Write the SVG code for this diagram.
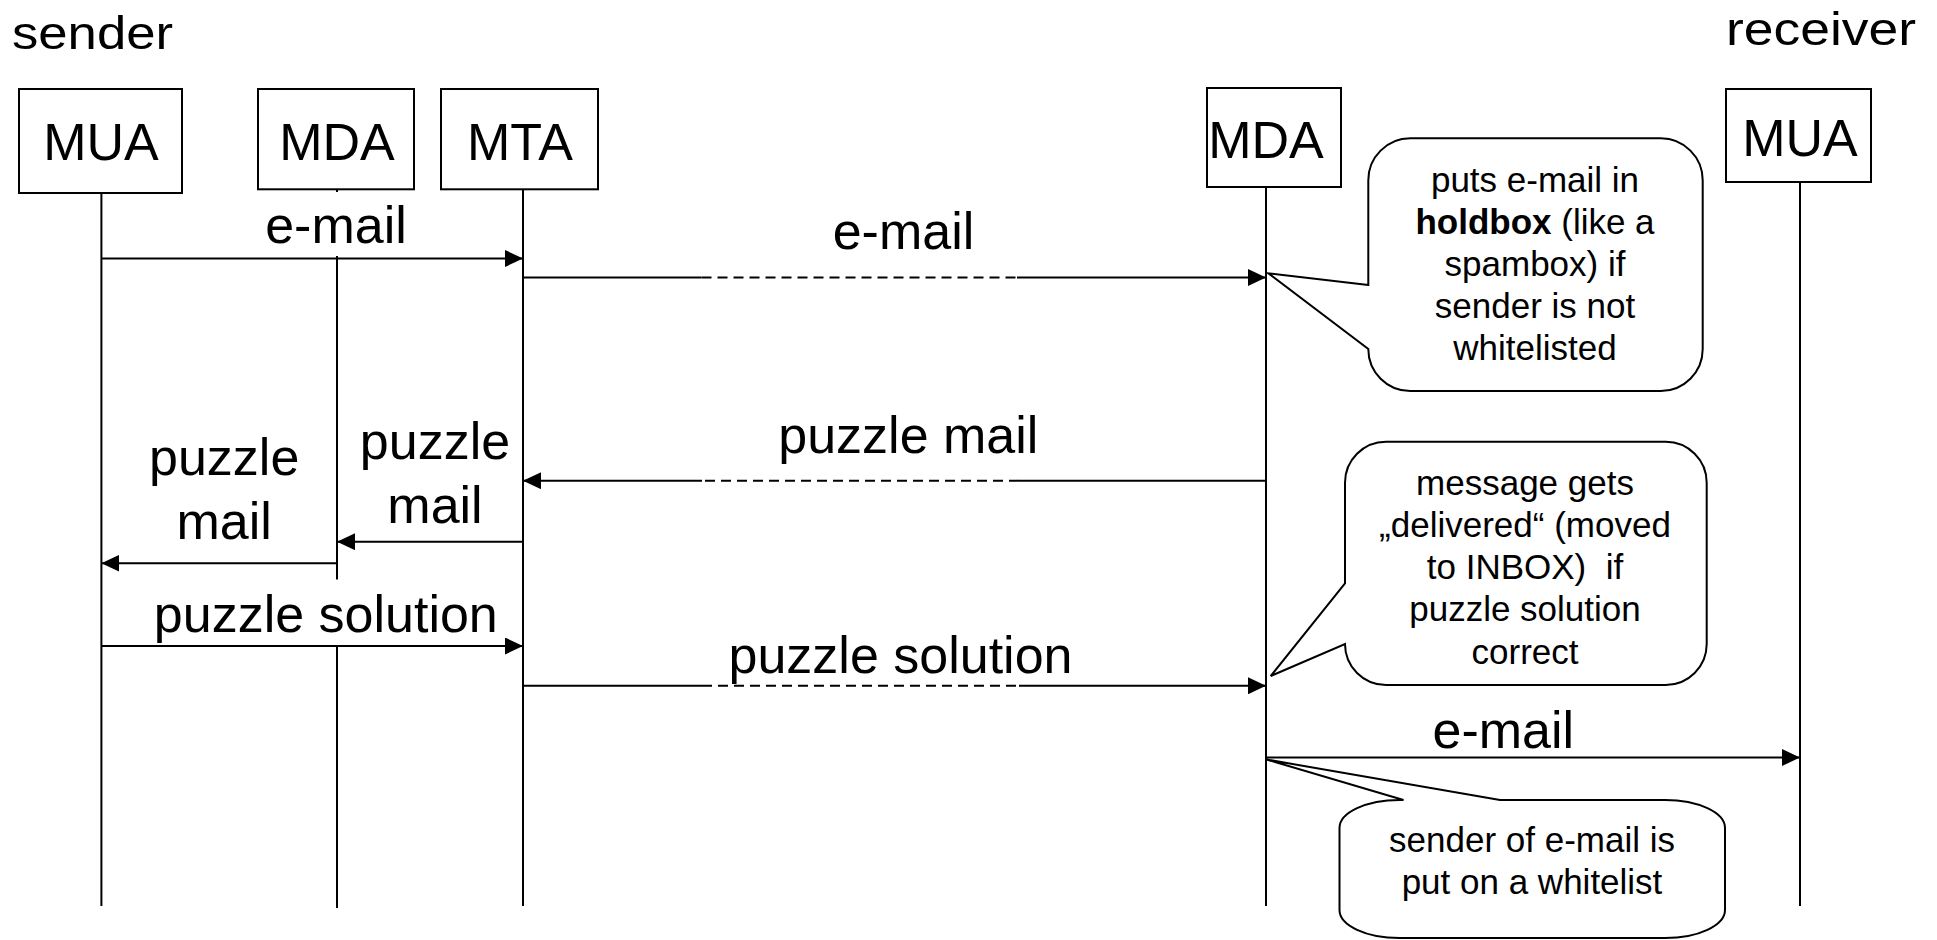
<svg xmlns="http://www.w3.org/2000/svg" width="1937" height="940" viewBox="0 0 1937 940">
  <style>
    .box { fill: #ffffff; stroke: #000000; stroke-width: 2; }
    .life { stroke: #000000; stroke-width: 2; fill: none; }
    .msg { stroke: #000000; stroke-width: 2; fill: none; }
    .hop { stroke: #000000; stroke-width: 2; fill: none; stroke-dasharray: 10 6; }
    .note { fill: #ffffff; stroke: #000000; stroke-width: 2; stroke-linejoin: miter; }
    text { font-family: "Liberation Sans", Arial, sans-serif; fill: #000000; }
    .role { font-size: 47px; }
    .name { font-size: 52px; text-anchor: middle; }
    .lbl { font-size: 52px; text-anchor: middle; }
    .ntxt { font-size: 35px; text-anchor: middle; white-space: pre; }
  </style>
  <defs>
    <marker id="head" viewBox="0 0 18 17" refX="18" refY="8.5" markerWidth="18" markerHeight="17" markerUnits="userSpaceOnUse" orient="auto">
      <path d="M0,0 L18,8.5 L0,17 Z" fill="#000000"/>
    </marker>
  </defs>

  <rect width="1937" height="940" fill="#ffffff"/>

  <!-- side captions -->
  <text class="role" x="12" y="49" textLength="161" lengthAdjust="spacingAndGlyphs">sender</text>
  <text class="role" x="1726" y="45" textLength="190" lengthAdjust="spacingAndGlyphs">receiver</text>

  <!-- participants with their lifelines -->
  <g id="mua-sender">
    <rect class="box" x="19" y="89" width="163" height="104"/>
    <text class="name" x="101" y="160">MUA</text>
    <line class="life" x1="101.4" y1="193" x2="101.4" y2="906"/>
  </g>
  <g id="mda-sender">
    <rect class="box" x="258" y="89" width="156" height="100.3"/>
    <text class="name" x="337" y="160">MDA</text>
    <line class="life" x1="337" y1="189.3" x2="337" y2="192"/>
    <line class="life" x1="337" y1="256" x2="337" y2="579.5"/>
    <line class="life" x1="337" y1="646" x2="337" y2="908"/>
  </g>
  <g id="mta">
    <rect class="box" x="441" y="89" width="157" height="100.3"/>
    <text class="name" x="520" y="160">MTA</text>
    <line class="life" x1="523" y1="189.3" x2="523" y2="906"/>
  </g>
  <g id="mda-receiver">
    <rect class="box" x="1207" y="88" width="134" height="99"/>
    <text class="name" x="1266" y="158">MDA</text>
    <line class="life" x1="1266" y1="187" x2="1266" y2="906"/>
  </g>
  <g id="mua-receiver">
    <rect class="box" x="1726" y="89" width="145" height="93"/>
    <text class="name" x="1800" y="156">MUA</text>
    <line class="life" x1="1800" y1="182" x2="1800" y2="906"/>
  </g>

  <!-- messages -->
  <g id="connectors">
    <g id="m1">
      <line class="msg" x1="101.4" y1="258.5" x2="523" y2="258.5" marker-end="url(#head)"/>
      <text class="lbl" x="336" y="243">e-mail</text>
    </g>
    <g id="m2">
      <line class="msg" x1="523" y1="277.5" x2="701.5" y2="277.5"/>
      <line class="hop" x1="701.5" y1="277.5" x2="1017" y2="277.5"/>
      <line class="msg" x1="1017" y1="277.5" x2="1266" y2="277.5" marker-end="url(#head)"/>
      <text class="lbl" x="903.5" y="249">e-mail</text>
    </g>
    <g id="m3">
      <line class="msg" x1="1266" y1="480.7" x2="1019" y2="480.7"/>
      <line class="hop" x1="1019" y1="480.7" x2="702" y2="480.7"/>
      <line class="msg" x1="702" y1="480.7" x2="523" y2="480.7" marker-end="url(#head)"/>
      <text class="lbl" x="908.3" y="453.3">puzzle mail</text>
    </g>
    <g id="m4">
      <line class="msg" x1="523" y1="541.7" x2="337" y2="541.7" marker-end="url(#head)"/>
      <text class="lbl" x="435" y="459.3">puzzle</text>
      <text class="lbl" x="435" y="523.3">mail</text>
    </g>
    <g id="m5">
      <line class="msg" x1="337" y1="563.3" x2="101.4" y2="563.3" marker-end="url(#head)"/>
      <text class="lbl" x="224.2" y="475">puzzle</text>
      <text class="lbl" x="224.2" y="539.3">mail</text>
    </g>
    <g id="m6">
      <line class="msg" x1="101.4" y1="646" x2="523" y2="646" marker-end="url(#head)"/>
      <text class="lbl" x="325.8" y="631.7">puzzle solution</text>
    </g>
    <g id="m7">
      <line class="msg" x1="523" y1="685.8" x2="702" y2="685.8"/>
      <line class="hop" x1="702" y1="685.8" x2="1019" y2="685.8"/>
      <line class="msg" x1="1019" y1="685.8" x2="1266" y2="685.8" marker-end="url(#head)"/>
      <text class="lbl" x="900.5" y="672.7">puzzle solution</text>
    </g>
    <g id="m8">
      <line class="msg" x1="1266" y1="757.5" x2="1800" y2="757.5" marker-end="url(#head)"/>
      <text class="lbl" x="1503.3" y="748.3">e-mail</text>
    </g>
  </g>

  <!-- notes attached to the receiving MDA -->
  <g id="note-holdbox">
    <path class="note" d="M1368.3,285 L1268.3,273.3 L1368.3,349 A42,42 0 0 0 1410.3,391 L1660.7,391 A42,42 0 0 0 1702.7,349 L1702.7,180.3 A42,42 0 0 0 1660.7,138.3 L1410.3,138.3 A42,42 0 0 0 1368.3,180.3 Z"/>
    <text class="ntxt" x="1535" y="192">puts e-mail in</text>
    <text class="ntxt" x="1535" y="234"><tspan font-weight="bold">holdbox</tspan> (like a</text>
    <text class="ntxt" x="1535" y="276">spambox) if</text>
    <text class="ntxt" x="1535" y="318">sender is not</text>
    <text class="ntxt" x="1535" y="360">whitelisted</text>
  </g>
  <g id="note-delivered">
    <path class="note" d="M1345,583.3 L1270.7,676 L1345,644 A41,41 0 0 0 1386,685 L1665.7,685 A41,41 0 0 0 1706.7,644 L1706.7,482.7 A41,41 0 0 0 1665.7,441.7 L1386,441.7 A41,41 0 0 0 1345,482.7 Z"/>
    <text class="ntxt" x="1525" y="495">message gets</text>
    <text class="ntxt" x="1525" y="537">„delivered“ (moved</text>
    <text class="ntxt" x="1525" y="579">to INBOX)  if</text>
    <text class="ntxt" x="1525" y="621">puzzle solution</text>
    <text class="ntxt" x="1525" y="664">correct</text>
  </g>
  <g id="note-whitelist">
    <path class="note" d="M1403.5,800 L1266.5,759.5 L1500,800 L1665,800 A60,28 0 0 1 1725,828 L1725,910 A60,28 0 0 1 1665,938 L1399.5,938 A60,28 0 0 1 1339.5,910 L1339.5,828 A60,28 0 0 1 1399.5,800 Z"/>
    <text class="ntxt" x="1532" y="851.7">sender of e-mail is</text>
    <text class="ntxt" x="1532" y="894.3">put on a whitelist</text>
  </g>
</svg>
